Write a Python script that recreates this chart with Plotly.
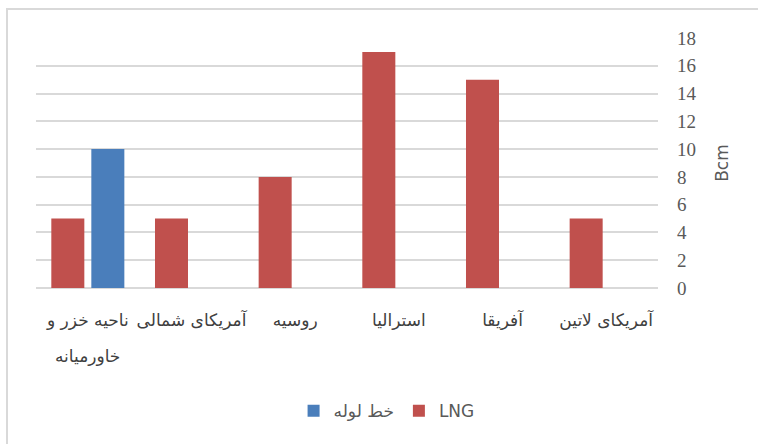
import plotly.graph_objects as go

categories = ["آمریکای لاتین", "آفریقا", "استرالیا", "روسیه", "آمریکای شمالی", "ناحیه خزر و خاورمیانه"]
tick_line1 = ["آمریکای لاتین", "آفریقا", "استرالیا", "روسیه", "آمریکای شمالی", "ناحیه خزر و"]
tick_line2 = ["", "", "", "", "", "خاورمیانه"]
lng_values = [5, 15, 17, 8, 5, 5]
pipeline_values = [None, None, None, None, None, 10]
y_ticks = list(range(0, 19, 2))

fig = go.Figure()
fig.add_trace(go.Bar(x=categories, y=pipeline_values, name="خط لوله",
                     marker=dict(color="#4a7ebb", line=dict(width=0))))
fig.add_trace(go.Bar(x=categories, y=lng_values, name="LNG",
                     marker=dict(color="#c0504d", line=dict(width=0))))

for cat, t2 in zip(categories, tick_line2):
    if t2:
        fig.add_annotation(x=cat, xref="x", y=0, yref="paper", text=t2,
                           showarrow=False, yanchor="middle", yshift=-68,
                           font=dict(family="DejaVu Sans", size=17, color="#404040"))

fig.update_layout(
    width=758, height=444,
    margin=dict(l=36, r=100, t=38, b=156),
    paper_bgcolor="white", plot_bgcolor="white",
    barmode="group", bargap=0.228, bargroupgap=0.175,
    showlegend=True,
    legend=dict(orientation="h", xref="container", yref="container",
                x=0.51, y=0.074, xanchor="center", yanchor="middle",
                font=dict(family="DejaVu Sans", size=17, color="#595959"),
                itemwidth=30),
    xaxis=dict(autorange="reversed", showgrid=False, showline=False,
               ticks="", ticklabelstandoff=20,
               tickmode="array", tickvals=categories, ticktext=tick_line1,
               tickfont=dict(family="DejaVu Sans", size=17, color="#404040")),
    yaxis=dict(side="right", range=[0, 18], tickvals=y_ticks,
               showgrid=True, gridcolor="#d9d9d9", gridwidth=1.5,
               zeroline=True, zerolinecolor="#d9d9d9", zerolinewidth=2,
               showline=False, ticks="", ticklabelstandoff=18,
               tickfont=dict(family="Liberation Serif", size=19, color="#595959"),
               title=dict(text="Bcm", standoff=20,
                          font=dict(family="DejaVu Sans", size=17, color="#595959"))),
    shapes=[dict(type="rect", xref="paper", yref="paper",
                 x0=-29/622, x1=1.2, y0=-1.0, y1=1 + 29/250,
                 line=dict(color="#d9d9d9", width=2), fillcolor="rgba(0,0,0,0)")],
)

fig.write_html("out.html", post_script="document.body.style.margin='0';",
               config={"displayModeBar": False})
